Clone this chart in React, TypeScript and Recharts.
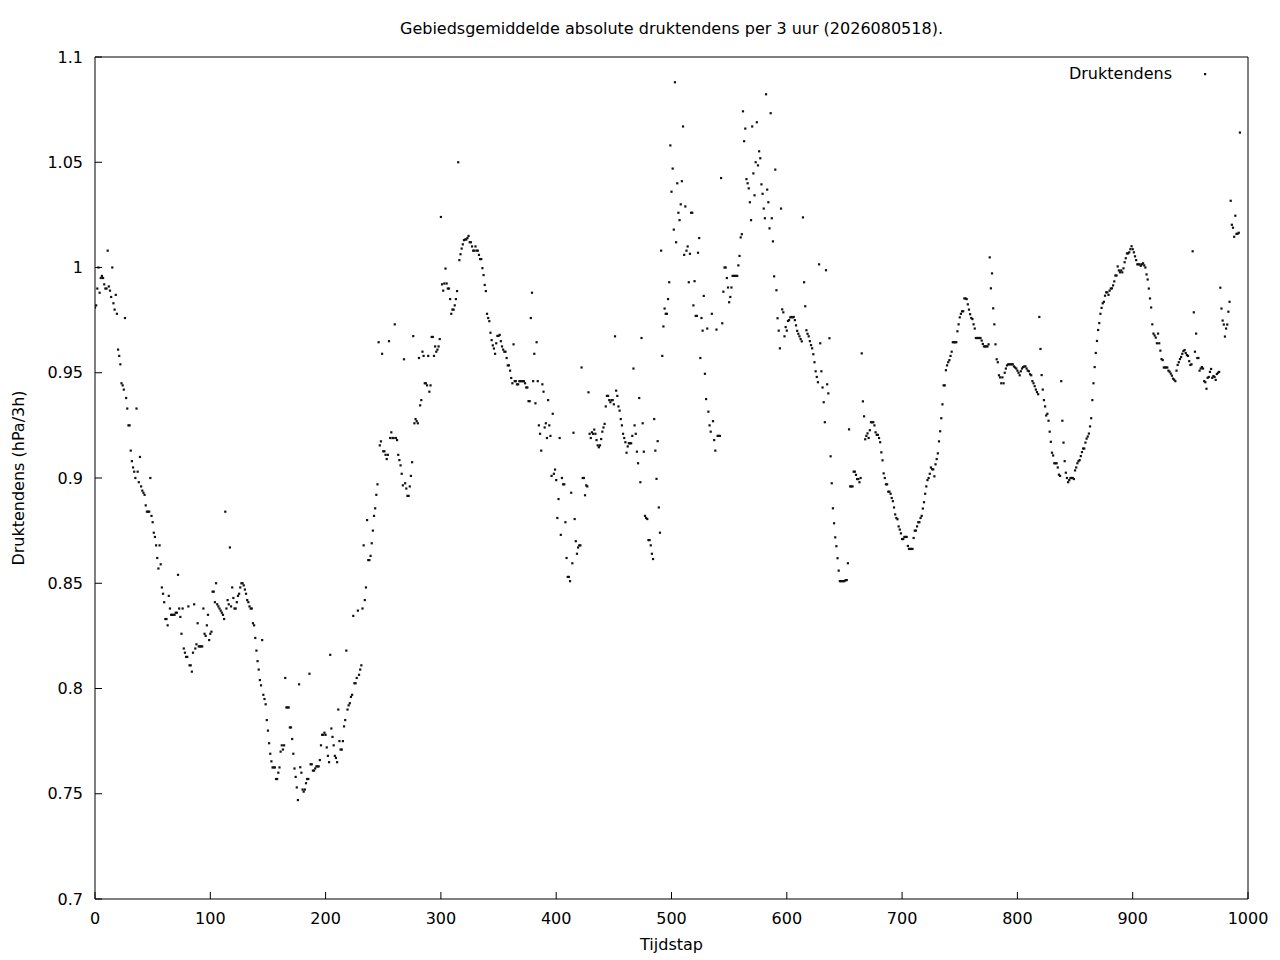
import { ScatterChart, Scatter, XAxis, YAxis, Legend } from "recharts";

// Druktendens per tijdstap (index = tijdstap)
const druktendens000 = [
  0.981, 0.982, 0.99, 1.0, 0.988, 0.995, 0.996, 0.995, 0.992, 0.99,
  0.99, 1.008, 0.991, 0.989, 0.986, 1.0, 0.983, 0.98, 0.987, 0.978,
  0.961, 0.958, 0.954, 0.945, 0.944, 0.942, 0.976, 0.938, 0.933, 0.925,
  0.925, 0.913, 0.908, 0.905, 0.903, 0.9, 0.933, 0.903, 0.898, 0.91,
  0.896, 0.894, 0.893, 0.892, 0.887, 0.884, 0.884, 0.884, 0.9, 0.882,
  0.879, 0.874, 0.872, 0.868, 0.862, 0.857, 0.868, 0.859, 0.848, 0.845,
  0.841, 0.833, 0.833, 0.83, 0.844, 0.838, 0.835, 0.835, 0.835, 0.835,
  0.836, 0.836, 0.854, 0.838, 0.834, 0.826, 0.838, 0.819, 0.817, 0.815,
  0.815, 0.839, 0.811, 0.811, 0.808, 0.817, 0.84, 0.819, 0.821, 0.831,
  0.82, 0.82, 0.82, 0.82, 0.838, 0.826, 0.825, 0.83, 0.835, 0.823,
];
const druktendens100 = [
  0.826, 0.827, 0.846, 0.846, 0.841, 0.85, 0.84, 0.839, 0.838, 0.837,
  0.836, 0.835, 0.833, 0.884, 0.838, 0.842, 0.84, 0.867, 0.839, 0.848,
  0.843, 0.838, 0.838, 0.841, 0.844, 0.845, 0.848, 0.85, 0.85, 0.849,
  0.847, 0.845, 0.842, 0.841, 0.839, 0.838, 0.838, 0.831, 0.83, 0.824,
  0.818, 0.813, 0.809, 0.804, 0.8015, 0.823, 0.797, 0.795, 0.7925, 0.785,
  0.78, 0.774, 0.769, 0.7654, 0.7625, 0.7625, 0.7625, 0.757, 0.757, 0.76,
  0.7625, 0.77, 0.773, 0.771, 0.773, 0.805, 0.791, 0.791, 0.791, 0.7815,
  0.7815, 0.776, 0.769, 0.762, 0.758, 0.753, 0.747, 0.802, 0.7626, 0.76,
  0.752, 0.751, 0.752, 0.755, 0.757, 0.757, 0.807, 0.764, 0.764, 0.761,
  0.761, 0.762, 0.763, 0.763, 0.763, 0.766, 0.773, 0.778, 0.778, 0.779,
];
const druktendens200 = [
  0.778, 0.772, 0.768, 0.765, 0.816, 0.781, 0.777, 0.773, 0.768, 0.767,
  0.765, 0.79, 0.775, 0.771, 0.771, 0.775, 0.782, 0.785, 0.818, 0.79,
  0.792, 0.793, 0.796, 0.797, 0.8345, 0.8025, 0.8025, 0.805, 0.837, 0.8065,
  0.809, 0.811, 0.838, 0.868, 0.842, 0.848, 0.88, 0.861, 0.861, 0.863,
  0.869, 0.875, 0.882, 0.8856, 0.892, 0.897, 0.9645, 0.9155, 0.9174, 0.959,
  0.9127, 0.9127, 0.911, 0.909, 0.911, 0.965, 0.919, 0.9217, 0.919, 0.919,
  0.973, 0.919, 0.918, 0.911, 0.9085, 0.906, 0.902, 0.8965, 0.9564, 0.8975,
  0.895, 0.8915, 0.8915, 0.896, 0.901, 0.9075, 0.9674, 0.926, 0.928, 0.927,
  0.926, 0.957, 0.9345, 0.937, 0.96, 0.958, 0.945, 0.945, 0.944, 0.958,
  0.941, 0.944, 0.967, 0.967, 0.958, 0.9625, 0.96, 0.961, 0.9625, 0.966,
];
const druktendens300 = [
  1.024, 0.992, 0.989, 0.9924, 0.9995, 0.9924, 0.99, 0.99, 0.985, 0.978,
  0.98, 0.98, 0.982, 0.985, 0.9888, 1.05, 1.0035, 1.0063, 1.009, 1.011,
  1.013, 1.0133, 1.0133, 1.014, 1.015, 1.012, 1.012, 1.01, 1.008, 1.008,
  1.01, 1.008, 1.008, 1.006, 1.004, 1.004, 0.9997, 0.9964, 0.9917, 0.9888,
  0.978, 0.976, 0.9745, 0.969, 0.9655, 0.963, 0.9615, 0.959, 0.964, 0.9675,
  0.9675, 0.968, 0.965, 0.9625, 0.961, 0.96, 0.96, 0.957, 0.9535, 0.9535,
  0.951, 0.9475, 0.945, 0.9635, 0.946, 0.946, 0.9445, 0.9445, 0.946, 0.946,
  0.946, 0.946, 0.946, 0.945, 0.943, 0.943, 0.9365, 0.9365, 0.976, 0.988,
  0.946, 0.959, 0.9355, 0.9645, 0.946, 0.925, 0.921, 0.913, 0.9445, 0.941,
  0.924, 0.926, 0.919, 0.937, 0.925, 0.92, 0.901, 0.9305, 0.902, 0.904,
];
const druktendens400 = [
  0.899, 0.881, 0.89, 0.919, 0.873, 0.9, 0.897, 0.897, 0.879, 0.862,
  0.853, 0.853, 0.851, 0.893, 0.8595, 0.9215, 0.8805, 0.87, 0.864, 0.867,
  0.868, 0.868, 0.9525, 0.9, 0.9, 0.8918, 0.8965, 0.896, 0.9407, 0.921,
  0.919, 0.9217, 0.921, 0.923, 0.921, 0.918, 0.9155, 0.9146, 0.9155, 0.9185,
  0.922, 0.924, 0.9257, 0.934, 0.939, 0.939, 0.937, 0.936, 0.937, 0.937,
  0.935, 0.9673, 0.9415, 0.939, 0.934, 0.932, 0.928, 0.925, 0.921, 0.919,
  0.917, 0.912, 0.915, 0.9165, 0.9165, 0.9165, 0.92, 0.952, 0.925, 0.921,
  0.9125, 0.907, 0.938, 0.898, 0.9665, 0.926, 0.9125, 0.882, 0.881, 0.8805,
  0.8705, 0.8705, 0.868, 0.864, 0.8615, 0.928, 0.913, 0.8996, 0.9175, 0.886,
  0.874, 1.008, 0.958, 0.972, 0.9805, 0.978, 0.978, 0.985, 0.993, 1.058,
];
const druktendens500 = [
  1.036, 1.047, 1.018, 1.088, 1.012, 1.04, 1.026, 1.0225, 1.03, 1.041,
  1.067, 1.006, 1.029, 1.008, 1.01, 0.993, 1.0065, 1.026, 1.026, 0.982,
  0.9935, 0.977, 0.977, 1.007, 1.014, 0.957, 0.976, 0.97, 0.9865, 0.9495,
  0.9375, 0.971, 0.9315, 0.925, 0.922, 0.978, 0.927, 0.918, 0.913, 0.9705,
  0.92, 0.92, 0.92, 1.0425, 0.9735, 0.9885, 1.0, 1.0, 0.995, 0.9905,
  0.9835, 0.986, 0.9905, 0.996, 0.996, 0.996, 0.996, 0.996, 1.001, 1.0055,
  1.0143, 1.0158, 1.0742, 1.06, 1.066, 1.042, 1.04, 1.0376, 1.031, 1.0225,
  1.067, 1.0447, 1.0343, 1.05, 1.069, 1.0485, 1.0552, 1.0519, 1.0395, 1.035,
  1.028, 1.0234, 1.0823, 1.037, 1.031, 1.0186, 1.0733, 1.0234, 1.0124, 0.9958,
  1.0465, 0.9892, 0.9759, 0.97, 0.9616, 1.028, 0.9801, 0.9787, 0.9673, 0.9717,
];
const druktendens600 = [
  0.97, 0.9746, 0.975, 0.9763, 0.9765, 0.9763, 0.9765, 0.975, 0.9725, 0.9699,
  0.9685, 0.9673, 0.966, 0.9649, 1.0238, 0.993, 0.9816, 0.9702, 0.9685, 0.9673,
  0.965, 0.9631, 0.9616, 0.9588, 0.955, 0.9507, 0.948, 0.9455, 1.0015, 0.964,
  0.9507, 0.943, 0.936, 0.9265, 0.9987, 0.9445, 0.9402, 0.9664, 0.9103, 0.8975,
  0.8856, 0.8785, 0.8718, 0.8676, 0.8619, 0.856, 0.851, 0.851, 0.851, 0.851,
  0.851, 0.8515, 0.8515, 0.8595, 0.9231, 0.896, 0.896, 0.896, 0.903, 0.903,
  0.9015, 0.8995, 0.8995, 0.898, 0.9, 0.9592, 0.9364, 0.9293, 0.9184, 0.92,
  0.9212, 0.919, 0.9227, 0.9265, 0.9265, 0.9265, 0.925, 0.9217, 0.9205, 0.9205,
  0.919, 0.917, 0.9122, 0.9084, 0.9022, 0.9, 0.897, 0.897, 0.8935, 0.8935,
  0.8925, 0.8905, 0.889, 0.886, 0.8827, 0.881, 0.8804, 0.877, 0.8755, 0.8737,
];
const druktendens700 = [
  0.871, 0.871, 0.872, 0.872, 0.872, 0.8677, 0.8663, 0.8663, 0.8663, 0.8663,
  0.8715, 0.875, 0.875, 0.877, 0.879, 0.879, 0.881, 0.882, 0.8855, 0.8885,
  0.8925, 0.896, 0.899, 0.9, 0.902, 0.905, 0.9042, 0.9041, 0.9008, 0.9065,
  0.909, 0.9117, 0.9174, 0.9222, 0.9284, 0.935, 0.944, 0.944, 0.9512, 0.9535,
  0.955, 0.956, 0.958, 0.96, 0.9645, 0.9645, 0.9645, 0.9645, 0.9697, 0.973,
  0.9763, 0.978, 0.9792, 0.9792, 0.9853, 0.9853, 0.985, 0.9825, 0.98, 0.9778,
  0.976, 0.9755, 0.973, 0.971, 0.9665, 0.9665, 0.9665, 0.9665, 0.9665, 0.9653,
  0.9637, 0.9625, 0.9625, 0.9625, 0.9625, 0.9635, 1.0048, 0.9901, 0.9972, 0.9806,
  0.973, 0.9635, 0.9564, 0.955, 0.9488, 0.9478, 0.945, 0.9478, 0.945, 0.95,
  0.952, 0.9535, 0.954, 0.954, 0.954, 0.954, 0.954, 0.953, 0.9525, 0.952,
];
const druktendens800 = [
  0.951, 0.95, 0.9488, 0.9507, 0.952, 0.9527, 0.953, 0.953, 0.952, 0.951,
  0.9507, 0.9493, 0.9488, 0.946, 0.945, 0.9436, 0.942, 0.9408, 0.9398, 0.9765,
  0.9613, 0.9489, 0.942, 0.937, 0.934, 0.9297, 0.9305, 0.9272, 0.922, 0.9172,
  0.912, 0.9107, 0.907, 0.907, 0.907, 0.905, 0.9016, 0.901, 0.946, 0.9272,
  0.9168, 0.908, 0.9025, 0.9, 0.898, 0.899, 0.9, 0.9, 0.9, 0.8995,
  0.9036, 0.905, 0.907, 0.908, 0.9085, 0.9104, 0.9123, 0.914, 0.914, 0.9168,
  0.9187, 0.9197, 0.9211, 0.9245, 0.9284, 0.937, 0.945, 0.9527, 0.9594, 0.9651,
  0.9703, 0.9736, 0.978, 0.9808, 0.983, 0.9837, 0.9866, 0.9882, 0.9882, 0.987,
  0.989, 0.99, 0.9901, 0.9915, 0.9934, 0.9962, 0.9962, 1.0005, 0.9986, 0.9977,
  0.9986, 0.9977, 0.9996, 1.0025, 1.0044, 1.0067, 1.0067, 1.0072, 1.0087, 1.0101,
];
const druktendens900 = [
  1.0087, 1.0072, 1.0053, 1.0035, 1.0015, 1.0015, 1.0015, 1.0008, 1.0015, 1.002,
  1.001, 1.0, 0.9967, 0.9943, 0.99, 0.9853, 0.981, 0.973, 0.9686, 0.9677,
  0.9667, 0.964, 0.9686, 0.964, 0.9605, 0.9565, 0.956, 0.9525, 0.9525, 0.9525,
  0.9525, 0.951, 0.9505, 0.9496, 0.9486, 0.9472, 0.9467, 0.946, 0.951, 0.9537,
  0.955, 0.9565, 0.9575, 0.959, 0.9603, 0.9608, 0.9594, 0.9584, 0.958, 0.9555,
  0.9537, 0.954, 1.0077, 0.9787, 0.96, 0.9686, 0.957, 0.957, 0.951, 0.952,
  0.9527, 0.952, 0.946, 0.9455, 0.9424, 0.9476, 0.948, 0.9504, 0.9518, 0.9476,
  0.9484, 0.948, 0.9466, 0.9494, 0.95, 0.9504, 0.9904, 0.9805, 0.9748, 0.9729,
  0.9672, 0.971, 0.9729, 0.979, 0.9837, 1.0317, 1.0203, 1.0189, 1.0146, 1.0246,
  1.016, 1.016, 1.0165, 1.0641,
];

const xTicks = [0, 100, 200, 300, 400, 500, 600, 700, 800, 900, 1000];
const yTicks = [0.7, 0.75, 0.8, 0.85, 0.9, 0.95, 1.0, 1.05, 1.1];

const punten = [
  ...druktendens000,
  ...druktendens100,
  ...druktendens200,
  ...druktendens300,
  ...druktendens400,
  ...druktendens500,
  ...druktendens600,
  ...druktendens700,
  ...druktendens800,
  ...druktendens900,
].map((druktendens, tijdstap) => ({ tijdstap, druktendens }));

const FONT = "'DejaVu Sans', sans-serif";
const tickStyle = { fontSize: 16, fill: "#000", fontFamily: FONT };

const Stip = (props: any) => {
  if (props.cx == null || props.cy == null) return <g />;
  return <rect x={props.cx - 1.1} y={props.cy - 1.1} width={2.2} height={2.2} fill="#111" />;
};

const Niets = () => <g />;

const LegendaInhoud = (props: any) => {
  const naam = props.payload?.[0]?.value ?? "Druktendens";
  return (
    <svg width={220} height={24} style={{ display: "block" }}>
      <text x={172} y={15} textAnchor="end" fontSize={16} fontFamily={FONT} fill="#000">
        {naam}
      </text>
      <rect x={204} y={9} width={2.2} height={2.2} fill="#111" />
    </svg>
  );
};

const YLabel = (props: any) => {
  const vb = props.viewBox || { x: 35, y: 57, width: 60, height: 842 };
  const x = vb.x - 17;
  const y = vb.y + vb.height / 2;
  return (
    <text
      x={x}
      y={y}
      transform={`rotate(-90 ${x} ${y})`}
      textAnchor="middle"
      dominantBaseline="central"
      fontSize={16}
      fontFamily={FONT}
      fill="#000"
    >
      Druktendens (hPa/3h)
    </text>
  );
};

export default function App() {
  return (
    <div style={{ position: "absolute", left: 0, top: 0, width: 1280, height: 960, background: "#fff" }}>
      <div
        style={{
          position: "absolute",
          left: 95,
          width: 1153,
          top: 19,
          textAlign: "center",
          fontFamily: FONT,
          fontSize: 16,
          lineHeight: "19px",
          color: "#000",
        }}
      >
        Gebiedsgemiddelde absolute druktendens per 3 uur (2026080518).
      </div>
      <ScatterChart width={1280} height={960} margin={{ top: 56, right: 31, bottom: 31, left: 35 }}>
        <XAxis
          type="number"
          dataKey="tijdstap"
          domain={[0, 1000]}
          ticks={xTicks}
          allowDataOverflow
          height={30}
          stroke="#000"
          tickSize={-7}
          tickMargin={21}
          tick={tickStyle}
          label={{
            value: "Tijdstap",
            position: "bottom",
            offset: 10,
            style: { fontSize: 16, fill: "#000", fontFamily: FONT },
          }}
        />
        <YAxis
          type="number"
          dataKey="druktendens"
          domain={[0.7, 1.1]}
          ticks={yTicks}
          allowDataOverflow
          width={60}
          stroke="#000"
          tickSize={-7}
          tickMargin={19}
          tick={tickStyle}
          tickFormatter={(v: number) => String(Math.round(v * 100) / 100)}
          label={<YLabel />}
        />
        <XAxis
          xAxisId="boven"
          orientation="top"
          type="number"
          dataKey="tijdstap"
          domain={[0, 1000]}
          ticks={xTicks}
          allowDataOverflow
          height={1}
          stroke="#000"
          tickSize={-7}
          tick={false}
        />
        <YAxis
          yAxisId="rechts"
          orientation="right"
          type="number"
          dataKey="druktendens"
          domain={[0.7, 1.1]}
          ticks={yTicks}
          allowDataOverflow
          width={1}
          stroke="#000"
          tickSize={-7}
          tick={false}
        />
        <Legend
          layout="horizontal"
          verticalAlign="middle"
          align="center"
          wrapperStyle={{ left: 1000, top: 64, width: 220, height: 24, right: "auto", bottom: "auto" }}
          content={<LegendaInhoud />}
        />
        <Scatter
          name="Druktendens"
          data={punten}
          shape={<Stip />}
          fill="#111"
          isAnimationActive={false}
        />
        <Scatter
          xAxisId="boven"
          yAxisId="rechts"
          data={punten}
          shape={<Niets />}
          legendType="none"
          isAnimationActive={false}
        />
      </ScatterChart>
    </div>
  );
}
